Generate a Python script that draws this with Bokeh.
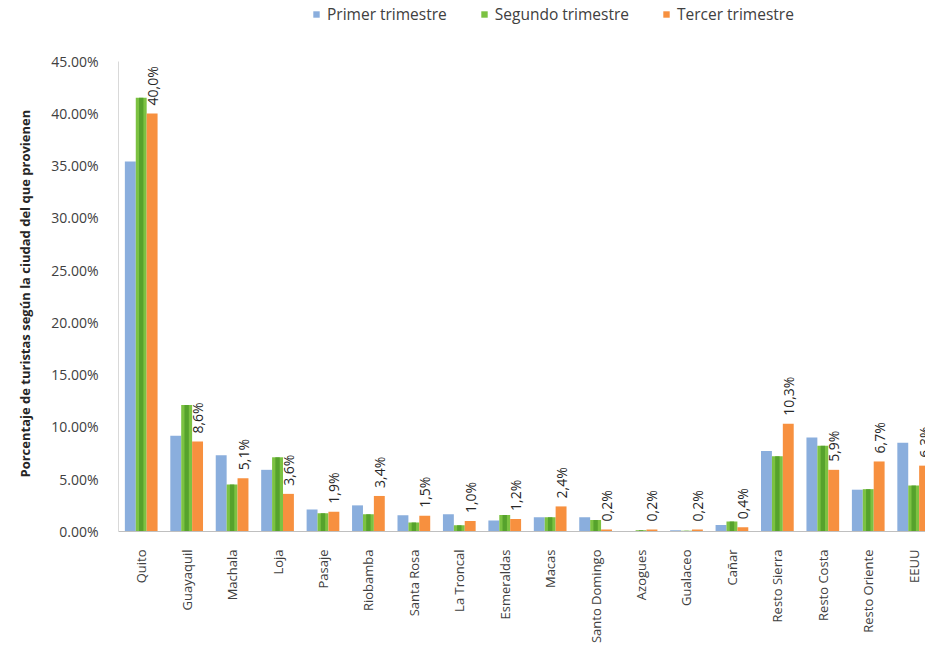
import math
from bokeh.plotting import figure
from bokeh.models import (Range1d, FixedTicker, PrintfTickFormatter, Legend, LegendItem,
                          ColumnDataSource, Title)
from bokeh.core.properties import value
from bokeh.embed import file_html
from bokeh.resources import INLINE

categories = ["Quito", "Guayaquil", "Machala", "Loja", "Pasaje", "Riobamba", "Santa Rosa",
              "La Troncal", "Esmeraldas", "Macas", "Santo Domingo", "Azogues", "Gualaceo",
              "Cañar", "Resto Sierra", "Resto Costa", "Resto Oriente", "EEUU"]
primer = [35.4, 9.15, 7.3, 5.9, 2.1, 2.5, 1.55, 1.65, 1.05, 1.36, 1.36, 0.05, 0.12,
          0.63, 7.7, 9.0, 4.0, 8.5]
segundo = [41.5, 12.1, 4.5, 7.1, 1.75, 1.65, 0.85, 0.6, 1.58, 1.36, 1.1, 0.12, 0.08,
           0.95, 7.2, 8.2, 4.05, 4.4]
tercer = [40.0, 8.6, 5.1, 3.6, 1.9, 3.4, 1.5, 1.0, 1.2, 2.4, 0.2, 0.2, 0.2,
          0.4, 10.3, 5.9, 6.7, 6.3]
series_names = ["Primer trimestre", "Segundo trimestre", "Tercer trimestre"]
y_ticks = [0, 5, 10, 15, 20, 25, 30, 35, 40, 45]
y_title = "Porcentaje de turistas según la ciudad del que provienen"

FONT = "Open Sans"
BLUE = "#8aaedd"
GREEN = "#7cc242"
GREEN_DARK = "#4c9a27"
ORANGE = "#f7903f"

n = len(categories)
centers = [i + 0.5 for i in range(n)]
bw = 0.24

src = ColumnDataSource(dict(
    xb=[c - bw for c in centers], xg=centers, xo=[c + bw for c in centers],
    primer=primer, segundo=segundo, tercer=tercer,
    lab=[("%.1f%%" % v).replace(".", ",") for v in tercer],
))

p = figure(width=925, height=646, output_backend="svg", toolbar_location=None,
           x_range=Range1d(0, 17.76), y_range=Range1d(0, 50.80),
           min_border_left=118, min_border_right=0, min_border_top=0, min_border_bottom=112)
p.outline_line_color = None
p.xgrid.visible = False
p.ygrid.visible = False
p.background_fill_color = "white"

rb = p.vbar(x="xb", top="primer", width=bw, bottom=0, source=src, fill_color=BLUE, line_color=None)
rg = p.vbar(x="xg", top="segundo", width=bw, bottom=0, source=src, fill_color=GREEN, line_color=None)
p.vbar(x="xg", top="segundo", width=bw * 0.4, bottom=0, source=src, fill_color=GREEN_DARK,
       line_color=None, fill_alpha=0.8)
ro = p.vbar(x="xo", top="tercer", width=bw, bottom=0, source=src, fill_color=ORANGE, line_color=None)

p.text(x="xo", y="tercer", text="lab", source=src, angle=math.pi / 2, text_align="left",
       text_baseline="middle", y_offset=-8, text_font=value(FONT), text_font_size="14px",
       text_color="#262626")

# axes
p.yaxis.ticker = FixedTicker(ticks=y_ticks)
p.yaxis.bounds = (0, 45)
p.yaxis.formatter = PrintfTickFormatter(format="%.2f%%")
p.yaxis.major_tick_line_color = None
p.yaxis.minor_tick_line_color = None
p.yaxis.axis_line_color = "#d9d9d9"
p.yaxis.major_label_standoff = 14
p.yaxis.major_label_text_font = FONT
p.yaxis.major_label_text_font_size = "14px"
p.yaxis.major_label_text_color = "#404040"

ytitle = Title(text=y_title, align="left", offset=54, standoff=26, vertical_align="top",
               text_font=FONT, text_font_size="13px", text_font_style="bold",
               text_color="#262626")
p.add_layout(ytitle, "left")

p.xaxis.ticker = FixedTicker(ticks=centers)
p.xaxis.major_label_overrides = {c: name for c, name in zip(centers, categories)}
p.xaxis.major_label_orientation = math.pi / 2
p.xaxis.major_tick_line_color = None
p.xaxis.minor_tick_line_color = None
p.xaxis.axis_line_color = "#bfbfbf"
p.xaxis.major_label_standoff = 12
p.xaxis.major_label_text_font = FONT
p.xaxis.major_label_text_font_size = "13px"
p.xaxis.major_label_text_color = "#404040"

legend = Legend(items=[LegendItem(label=series_names[0], renderers=[rb]),
                       LegendItem(label=series_names[1], renderers=[rg]),
                       LegendItem(label=series_names[2], renderers=[ro])],
                orientation="horizontal", location=(194, 506),
                glyph_width=8, glyph_height=8, label_standoff=7, spacing=33,
                padding=2, margin=0, border_line_color=None, background_fill_alpha=0,
                label_text_font=FONT, label_text_font_size="15.5px", label_text_color="#404040")
p.add_layout(legend, "center")

open("out.html", "w").write(file_html(p, INLINE))
